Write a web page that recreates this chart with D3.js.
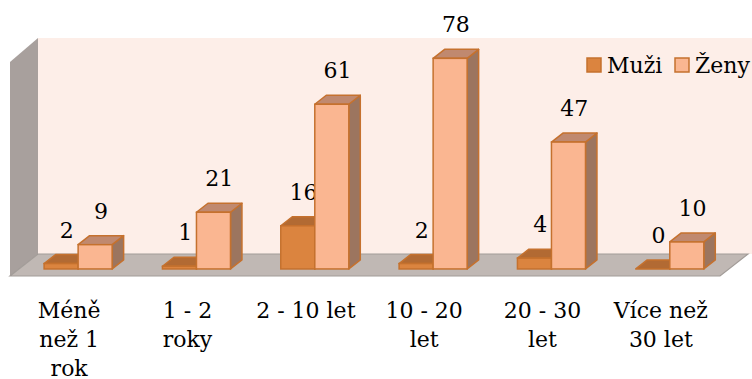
<!DOCTYPE html>
<html>
<head>
<meta charset="utf-8">
<script src="https://cdn.jsdelivr.net/npm/d3@7/dist/d3.min.js"></script>
<style>
  html, body { margin: 0; padding: 0; background: #ffffff; }
  svg { display: block; }
  text { font-family: "DejaVu Serif", "Liberation Serif", serif; fill: #000; }
</style>
</head>
<body>
<svg id="chart" width="752" height="379"></svg>
<script>
// Length of practice by gender
const categories = ["Méně než 1 rok", "1 - 2 roky", "2 - 10 let", "10 - 20 let", "20 - 30 let", "Více než 30 let"];
const tickLabels = [["Méně", "než 1", "rok"], ["1 - 2", "roky"], ["2 - 10 let"], ["10 - 20", "let"], ["20 - 30", "let"], ["Více než", "30 let"]];
const seriesNames = ["Muži", "Ženy"];
const muzi = [2, 1, 16, 2, 4, 0];
const zeny = [9, 21, 61, 78, 47, 10];
const valueMax = 80;

const svg = d3.select("#chart");

// 3D box geometry
const floorY = 276, floorX0 = 10, floorX1 = 720;
const depthDx = 28, depthDy = -22;
const wallHeight = 216;
const barFrontT = 0.32, barBackT = 0.73;

const x = d3.scaleBand().domain(categories).range([floorX0, floorX1])
  .paddingInner(0.425).paddingOuter(0.2125);
const xSub = d3.scaleBand().domain(seriesNames).range([0, x.bandwidth()]);
const h = d3.scaleLinear().domain([0, valueMax]).range([0, wallHeight]);

const colors = {
  "Muži": { front: "#db843f", top: "#b26a33", side: "#9a5a2c" },
  "Ženy": { front: "#fab691", top: "#c0896f", side: "#9c755f" }
};
const edge = "#c5712e";

// Walls and floor
const backX0 = floorX0 + depthDx, backY = floorY + depthDy;
svg.append("rect")
  .attr("x", backX0).attr("y", backY - wallHeight)
  .attr("width", floorX1 + depthDx - backX0 + 4).attr("height", wallHeight)
  .attr("fill", "#fdeee8");
svg.append("polygon")
  .attr("points", [[floorX0, floorY], [floorX0, floorY - wallHeight + 2], [backX0, backY - wallHeight], [backX0, backY]].join(" "))
  .attr("fill", "#a8a09d");
svg.append("polygon")
  .attr("points", [[floorX0, floorY], [floorX1, floorY], [floorX1 + depthDx, backY], [backX0, backY]].join(" "))
  .attr("fill", "#c0b8b4").attr("stroke", "#a29c98").attr("stroke-width", 1.2);

// Bars
const bdx = depthDx * (barBackT - barFrontT), bdy = depthDy * (barBackT - barFrontT);
const baseY = floorY + depthDy * barFrontT;
const shiftX = depthDx * barFrontT;

const rows = [];
categories.forEach((c, i) => {
  rows.push({ cat: c, s: "Muži", v: muzi[i] });
  rows.push({ cat: c, s: "Ženy", v: zeny[i] });
});

const g = svg.append("g");
rows.forEach(d => {
  const x0 = x(d.cat) + xSub(d.s) + shiftX;
  const w = xSub.bandwidth();
  const yTop = baseY - h(d.v);
  const col = colors[d.s];
  const bar = g.append("g");
  bar.append("polygon")
    .attr("points", [[x0 + w, yTop], [x0 + w + bdx, yTop + bdy], [x0 + w + bdx, baseY + bdy], [x0 + w, baseY]].join(" "))
    .attr("fill", col.side).attr("stroke", edge).attr("stroke-width", 1.5).attr("stroke-linejoin", "round");
  bar.append("polygon")
    .attr("points", [[x0, yTop], [x0 + w, yTop], [x0 + w + bdx, yTop + bdy], [x0 + bdx, yTop + bdy]].join(" "))
    .attr("fill", col.top).attr("stroke", edge).attr("stroke-width", 1.5).attr("stroke-linejoin", "round");
  if (d.v > 0) {
    bar.append("rect")
      .attr("x", x0).attr("y", yTop).attr("width", w).attr("height", baseY - yTop)
      .attr("fill", col.front).attr("stroke", edge).attr("stroke-width", 1.5);
  }
  g.append("text")
    .attr("x", x0 + w / 2 + bdx / 2).attr("y", yTop - 26)
    .attr("text-anchor", "middle").attr("font-size", 22)
    .text(d.v);
});

// Category labels
categories.forEach((c, i) => {
  const t = svg.append("text")
    .attr("text-anchor", "middle").attr("font-size", 22)
    .attr("x", x(c) + x.bandwidth() / 2).attr("y", 318);
  tickLabels[i].forEach((line, j) => {
    t.append("tspan").attr("x", x(c) + x.bandwidth() / 2).attr("y", 318 + j * 29).text(line);
  });
});

// Legend
const legend = svg.append("g");
const legendX = [587, 675];
seriesNames.forEach((s, i) => {
  legend.append("rect")
    .attr("x", legendX[i]).attr("y", 58).attr("width", 14).attr("height", 14)
    .attr("fill", colors[s].front).attr("stroke", edge).attr("stroke-width", 1.5);
  legend.append("text")
    .attr("x", legendX[i] + 20).attr("y", 73).attr("font-size", 22)
    .text(s);
});
</script>
</body>
</html>
